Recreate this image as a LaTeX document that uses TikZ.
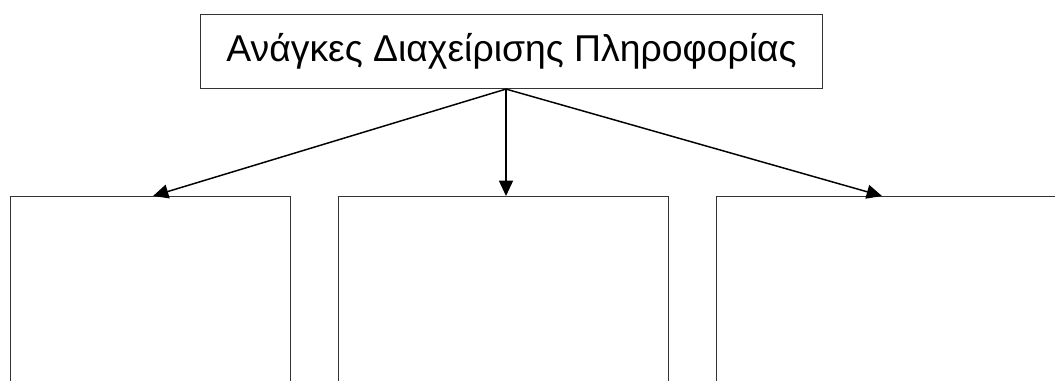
\documentclass[tikz,border=0pt]{standalone}
\usepackage{fontspec}
\setmainfont{Liberation Sans}
\usetikzlibrary{arrows.meta,calc}
\begin{document}
\begin{tikzpicture}[x=0.75pt,y=-0.75pt,
  box/.style={draw=black!80,line width=0.8pt,fill=white,inner sep=0pt,anchor=north west},
  conn/.style={line width=1.1pt,-{Triangle[length=11.5pt,width=10.5pt]}}]
\useasboundingbox (0,0) rectangle (1055,380);
\begin{scope}
\clip (0,0) rectangle (1055,380);
\node[box,minimum width=622*0.75pt,minimum height=74*0.75pt,font=\fontsize{28}{31}\selectfont] (top) at (200,14) {Ανάγκες Διαχείρισης Πληροφορίας};
\node[box,minimum width=280*0.75pt,minimum height=220*0.75pt] (b1) at (10,196) {};
\node[box,minimum width=330*0.75pt,minimum height=220*0.75pt] (b2) at (338,196) {};
\node[box,minimum width=360*0.75pt,minimum height=220*0.75pt] (b3) at (716,196) {};
\coordinate (s) at ($(top.south west)+(306,0)$);
\coordinate (t1) at ($(b1.north west)+(143,0)$);
\coordinate (t2) at ($(b2.north west)+(168,0)$);
\coordinate (t3) at ($(b3.north west)+(166,0)$);
\draw[conn] (s) -- (t1);
\draw[conn] (s) -- (t2);
\draw[conn] (s) -- (t3);
\end{scope}
\end{tikzpicture}
\end{document}
